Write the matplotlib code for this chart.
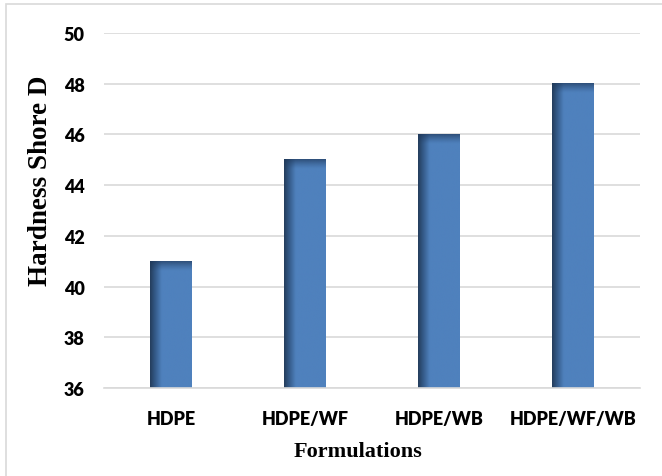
import numpy as np
import matplotlib.pyplot as plt
from matplotlib.colors import LinearSegmentedColormap
from matplotlib.patches import Rectangle

categories = ["HDPE", "HDPE/WF", "HDPE/WB", "HDPE/WF/WB"]
hardness = [41, 45, 46, 48]

fig = plt.figure(figsize=(6.62, 4.77), dpi=100)
ax = fig.add_axes([104 / 662, 1 - 389 / 477, 536 / 662, 355 / 477])

# outer chart frame (light gray)
fig.patches.append(Rectangle((6 / 662, -0.1), 1.2, 1 - 5 / 477 + 0.1, transform=fig.transFigure,
                             fill=False, edgecolor="#d9d9d9", linewidth=1.2))

ymin, ymax = 36, 50
ax.set_ylim(ymin, ymax)
ax.set_xlim(-0.5, len(categories) - 0.5)
ax.set_yticks(np.arange(36, 51, 2))
ax.yaxis.grid(True, color="#d9d9d9", linewidth=1.2)
ax.set_axisbelow(True)
for s in ["top", "right", "left"]:
    ax.spines[s].set_visible(False)
ax.spines["bottom"].set_color("#d9d9d9")
ax.spines["bottom"].set_linewidth(1.2)
ax.tick_params(axis="y", length=0, pad=14)
ax.tick_params(axis="x", length=0, pad=16)

# gradient: dark left edge into steel blue
side = LinearSegmentedColormap.from_list("side", [(0, "#243d5c"), (0.12, "#345a88"), (0.28, "#4f81bd"), (1, "#4f81bd")])
grad = np.linspace(0, 1, 200).reshape(1, -1)
# top bevel: dark at top, fading out downward
capimg = np.zeros((40, 1, 4))
capimg[:, 0, :3] = np.array([0x1f, 0x38, 0x5a]) / 255
capimg[:, 0, 3] = np.linspace(0.75, 0.0, 40) ** 1.3
width = 0.31
cap = 0.38
for i, v in enumerate(hardness):
    x0 = i - width / 2
    ax.imshow(grad, cmap=side, extent=(x0, x0 + width, ymin, v), aspect="auto", zorder=2)
    ax.imshow(capimg, extent=(x0, x0 + width, v - cap, v), aspect="auto", zorder=3)

ax.set_xticks(range(len(categories)))
ax.set_xticklabels(categories)
for lbl in ax.get_xticklabels() + ax.get_yticklabels():
    lbl.set_fontfamily("Lato")
    lbl.set_fontweight("heavy")
    lbl.set_fontsize(13)

ax.set_ylabel("Hardness Shore D", fontfamily="Liberation Serif", fontweight="bold", fontsize=19.5)
ax.yaxis.set_label_coords(-0.095, 0.586)
ax.set_xlabel("Formulations", fontfamily="Liberation Serif", fontweight="bold", fontsize=16)
ax.xaxis.set_label_coords(0.474, -0.148)

fig.savefig("out.png", dpi=100)
